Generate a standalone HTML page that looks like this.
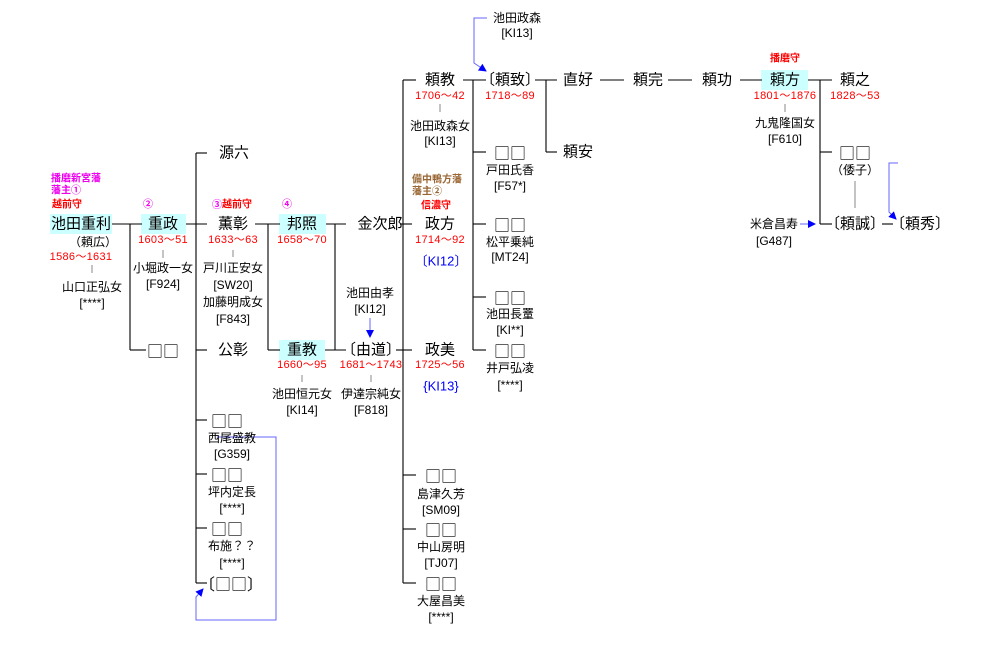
<!DOCTYPE html>
<html><head><meta charset="utf-8"><style>
html,body{margin:0;padding:0;background:#fff}
svg{display:block}
text{font-family:"Liberation Sans","Noto Sans CJK JP",sans-serif;dominant-baseline:central;text-anchor:middle}
.n{font-size:15px;fill:#000}
.q{font-family:"Noto Sans CJK JP",sans-serif;font-size:16px;fill:#000}
.s{font-size:12px;fill:#000}
.d{font-size:11px;fill:#f00;letter-spacing:0.3px}
.r{font-size:10px;fill:#f00;font-weight:bold}
.m{font-size:10px;fill:#e0e;font-weight:bold}
.b{font-size:10px;fill:#963;font-weight:bold}
.k{font-size:13px;fill:#00f}
line,polyline{stroke:#000;stroke-width:1.1;fill:none}
.t{stroke:#888;stroke-width:1}
.bl{stroke:#66f;stroke-width:1}
</style></head><body>
<svg width="985" height="669" viewBox="0 0 985 669" xmlns="http://www.w3.org/2000/svg">
<defs><marker id="a" markerWidth="8" markerHeight="8" refX="7" refY="4" orient="auto" markerUnits="userSpaceOnUse"><path d="M0,0L8,4L0,8z" fill="#00f"/></marker></defs>
<rect x="50" y="214" width="62" height="20" fill="#ccffff"/>
<rect x="141" y="214" width="45" height="20" fill="#ccffff"/>
<rect x="279" y="214" width="47" height="20" fill="#ccffff"/>
<rect x="279" y="340" width="46" height="20" fill="#ccffff"/>
<rect x="761" y="70" width="47" height="20" fill="#ccffff"/>
<line x1="112" y1="224" x2="142" y2="224"/><line x1="130" y1="224" x2="130" y2="350"/><line x1="130" y1="350" x2="146" y2="350"/>
<line x1="186" y1="224" x2="207" y2="224"/><line x1="196" y1="153" x2="196" y2="583"/>
<line x1="196" y1="153" x2="207" y2="153"/><line x1="196" y1="350" x2="207" y2="350"/><line x1="196" y1="420" x2="207" y2="420"/><line x1="196" y1="474" x2="207" y2="474"/><line x1="196" y1="528" x2="207" y2="528"/><line x1="196" y1="583" x2="207" y2="583"/>
<line x1="255" y1="224" x2="280" y2="224"/><line x1="268" y1="224" x2="268" y2="350"/><line x1="268" y1="350" x2="280" y2="350"/>
<line x1="326" y1="224" x2="346" y2="224"/><line x1="335" y1="224" x2="335" y2="350"/><line x1="325" y1="350" x2="346" y2="350"/>
<line x1="400" y1="224" x2="412" y2="224"/><line x1="396" y1="350" x2="412" y2="350"/><line x1="403" y1="80" x2="403" y2="583"/>
<line x1="403" y1="80" x2="416" y2="80"/><line x1="403" y1="475" x2="416" y2="475"/><line x1="403" y1="529" x2="416" y2="529"/><line x1="403" y1="583" x2="416" y2="583"/>
<line x1="463" y1="80" x2="486" y2="80"/><line x1="473" y1="80" x2="473" y2="350"/>
<line x1="473" y1="152" x2="486" y2="152"/><line x1="473" y1="224" x2="486" y2="224"/><line x1="473" y1="297" x2="486" y2="297"/><line x1="473" y1="350" x2="486" y2="350"/>
<line x1="535" y1="80" x2="557" y2="80"/><line x1="546" y1="80" x2="546" y2="152"/><line x1="546" y1="152" x2="557" y2="152"/>
<line x1="600" y1="80" x2="624" y2="80"/><line x1="668" y1="80" x2="692" y2="80"/><line x1="740" y1="80" x2="762" y2="80"/>
<line x1="808" y1="80" x2="832" y2="80"/><line x1="820" y1="80" x2="820" y2="224"/><line x1="820" y1="152" x2="832" y2="152"/><line x1="820" y1="224" x2="832" y2="224"/>
<line x1="882" y1="224" x2="893" y2="224"/>
<line class="t" x1="92" y1="265" x2="92" y2="273"/><line class="t" x1="163" y1="250" x2="163" y2="258"/><line class="t" x1="233" y1="250" x2="233" y2="257"/>
<line class="t" x1="302" y1="375" x2="302" y2="382"/><line class="t" x1="371" y1="375" x2="371" y2="382"/><line class="t" x1="440" y1="104" x2="440" y2="112"/>
<line class="t" x1="785" y1="104" x2="785" y2="112"/><line class="t" x1="855" y1="181" x2="855" y2="208"/>
<line class="bl" x1="370" y1="318" x2="370" y2="337" marker-end="url(#a)"/>
<polyline class="bl" points="487,18 474,18 474,63 486,71" marker-end="url(#a)"/>
<line class="bl" x1="800" y1="224" x2="815" y2="224" marker-end="url(#a)"/>
<polyline class="bl" points="898,163 889,163 889,212 896,219" marker-end="url(#a)"/>
<polyline class="bl" points="217,437 276,437 276,620 196,620 196,597 203,589" marker-end="url(#a)"/>
<text class="m" x="51" y="179" style="text-anchor:start">播磨新宮藩</text>
<text class="m" x="51" y="191" style="text-anchor:start">藩主①</text>
<text class="r" x="67" y="205">越前守</text>
<text class="n" x="81" y="224">池田重利</text>
<text class="s" x="93" y="242">（頼広）</text>
<text class="d" x="81" y="257">1586〜1631</text>
<text class="s" x="92" y="287">山口正弘女</text><text class="s" x="92" y="303">[****]</text>
<text class="m" x="148" y="205">②</text>
<text class="n" x="163" y="224">重政</text>
<text class="d" x="163" y="240">1603〜51</text>
<text class="s" x="163" y="268">小堀政一女</text><text class="s" x="163" y="284">[F924]</text>
<text class="q" x="163" y="350">□□</text>
<text class="n" x="234" y="153">源六</text>
<text class="r" x="232" y="205"><tspan fill="#e0e">③</tspan>越前守</text>
<text class="n" x="233" y="224">薫彰</text>
<text class="d" x="233" y="240">1633〜63</text>
<text class="s" x="233" y="268">戸川正安女</text><text class="s" x="233" y="285">[SW20]</text>
<text class="s" x="233" y="302">加藤明成女</text><text class="s" x="233" y="319">[F843]</text>
<text class="n" x="233" y="350">公彰</text>
<text class="q" x="227" y="420">□□</text><text class="s" x="232" y="438">西尾盛教</text><text class="s" x="232" y="454">[G359]</text>
<text class="q" x="227" y="474">□□</text><text class="s" x="232" y="492">坪内定長</text><text class="s" x="232" y="508">[****]</text>
<text class="q" x="227" y="528">□□</text><text class="s" x="232" y="546">布施？？</text><text class="s" x="232" y="563">[****]</text>
<text class="q" x="231" y="583">〔□□〕</text>
<text class="m" x="287" y="205">④</text>
<text class="n" x="302" y="224">邦照</text><text class="d" x="302" y="240">1658〜70</text>
<text class="n" x="302" y="350">重教</text><text class="d" x="302" y="365">1660〜95</text>
<text class="s" x="302" y="394">池田恒元女</text><text class="s" x="302" y="410">[KI14]</text>
<text class="n" x="380" y="224">金次郎</text>
<text class="s" x="370" y="293">池田由孝</text><text class="s" x="370" y="309">[KI12]</text>
<text class="n" x="371" y="350">〔由道〕</text><text class="d" x="371" y="365">1681〜1743</text>
<text class="s" x="371" y="394">伊達宗純女</text><text class="s" x="371" y="410">[F818]</text>
<text class="n" x="440" y="80">頼教</text><text class="d" x="440" y="96">1706〜42</text>
<text class="s" x="440" y="126">池田政森女</text><text class="s" x="440" y="141">[KI13]</text>
<text class="b" x="412" y="180" style="text-anchor:start">備中鴨方藩</text>
<text class="b" x="412" y="192" style="text-anchor:start">藩主②</text>
<text class="r" x="436" y="206">信濃守</text>
<text class="n" x="440" y="224">政方</text><text class="d" x="440" y="240">1714〜92</text>
<text class="k" x="441" y="261">〔KI12〕</text>
<text class="n" x="440" y="350">政美</text><text class="d" x="440" y="365">1725〜56</text>
<text class="k" x="441" y="386">{KI13}</text>
<text class="q" x="441" y="475">□□</text><text class="s" x="441" y="494">島津久芳</text><text class="s" x="441" y="510">[SM09]</text>
<text class="q" x="441" y="529">□□</text><text class="s" x="441" y="547">中山房明</text><text class="s" x="441" y="563">[TJ07]</text>
<text class="q" x="441" y="583">□□</text><text class="s" x="441" y="601">大屋昌美</text><text class="s" x="441" y="617">[****]</text>
<text class="s" x="517" y="18">池田政森</text><text class="s" x="517" y="33">[KI13]</text>
<text class="n" x="510" y="80">〔頼致〕</text><text class="d" x="510" y="96">1718〜89</text>
<text class="q" x="510" y="152">□□</text><text class="s" x="510" y="170">戸田氏香</text><text class="s" x="510" y="186">[F57*]</text>
<text class="q" x="510" y="224">□□</text><text class="s" x="510" y="242">松平乗純</text><text class="s" x="510" y="257">[MT24]</text>
<text class="q" x="510" y="297">□□</text><text class="s" x="510" y="314">池田長罿</text><text class="s" x="510" y="330">[KI**]</text>
<text class="q" x="510" y="350">□□</text><text class="s" x="510" y="368">井戸弘凌</text><text class="s" x="510" y="385">[****]</text>
<text class="n" x="578" y="80">直好</text><text class="n" x="578" y="152">頼安</text>
<text class="n" x="648" y="80">頼完</text><text class="n" x="717" y="80">頼功</text>
<text class="r" x="785" y="59">播磨守</text>
<text class="n" x="785" y="80">頼方</text><text class="d" x="785" y="96">1801〜1876</text>
<text class="s" x="785" y="123">九鬼隆国女</text><text class="s" x="785" y="139">[F610]</text>
<text class="n" x="855" y="80">頼之</text><text class="d" x="855" y="96">1828〜53</text>
<text class="q" x="855" y="152">□□</text><text class="s" x="855" y="170">（倭子）</text>
<text class="s" x="774" y="224">米倉昌寿</text><text class="s" x="774" y="241">[G487]</text>
<text class="n" x="855" y="224">〔頼誠〕</text><text class="n" x="920" y="224">〔頼秀〕</text>
</svg>
</body></html>
